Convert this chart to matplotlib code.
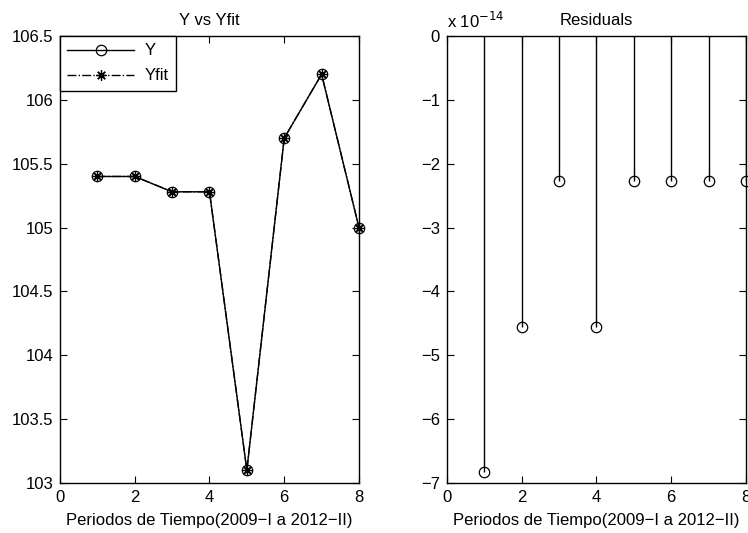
import numpy as np
import matplotlib
matplotlib.use('Agg')
import matplotlib.pyplot as plt

plt.rcParams['font.family'] = ['Liberation Sans', 'DejaVu Sans']
plt.rcParams['font.size'] = 12
plt.rcParams['axes.unicode_minus'] = True

periodos = [1, 2, 3, 4, 5, 6, 7, 8]
y_obs = [105.4, 105.4, 105.28, 105.28, 103.1, 105.7, 106.2, 105.0]
y_fit = [105.4, 105.4, 105.28, 105.28, 103.1, 105.7, 106.2, 105.0]
residuos = [-6.82e-14, -4.55e-14, -2.27e-14, -4.55e-14, -2.27e-14, -2.27e-14, -2.27e-14, -2.27e-14]
escala = 1e-14

xlabel = 'Periodos de Tiempo(2009\u2212I a 2012\u2212II)'

fig = plt.figure(figsize=(7.48, 5.33), dpi=100)
ax1 = fig.add_axes([0.0802, 0.0938, 0.3997, 0.8387])
ax2 = fig.add_axes([0.5976, 0.0938, 0.3997, 0.8387])

# panel izquierdo: Y contra Yfit
l1, = ax1.plot(periodos, y_obs, '-', color='k', lw=1, marker='o', ms=7.5,
               mfc='none', mec='k', mew=0.9, label='Y')
l2, = ax1.plot(periodos, y_fit, '-.', color='k', lw=1, marker=(8, 2, 0), ms=7.5,
               mec='k', mew=0.9, label='Yfit')
for l in (l1, l2):
    l.set_clip_on(False)
ax1.set_xlim(0, 8)
ax1.set_ylim(103, 106.5)
ax1.set_xticks([0, 2, 4, 6, 8])
ax1.set_yticks(np.arange(103, 106.51, 0.5))
ax1.set_yticklabels(['103', '103.5', '104', '104.5', '105', '105.5', '106', '106.5'])
ax1.set_title('Y vs Yfit', fontsize=12, pad=8)
ax1.set_xlabel(xlabel, labelpad=6)
leg = ax1.legend(loc='upper left', borderaxespad=0, fancybox=False,
                 edgecolor='k', framealpha=1, handlelength=4.0,
                 borderpad=0.45, labelspacing=0.6, handletextpad=0.6,
                 fontsize=12)
leg.get_frame().set_linewidth(1)

# panel derecho: residuos
markerline, stemlines, baseline = ax2.stem(periodos, np.array(residuos) / escala)
plt.setp(markerline, marker='o', ms=7.5, mfc='none', mec='k', mew=0.9)
plt.setp(stemlines, color='k', lw=1)
baseline.set_visible(False)
markerline.set_clip_on(False)
ax2.set_xlim(0, 8)
ax2.set_ylim(-7, 0)
ax2.set_xticks([0, 2, 4, 6, 8])
ax2.set_yticks(range(-7, 1))
ax2.set_title('Residuals', fontsize=12, pad=8)
ax2.set_xlabel(xlabel, labelpad=6)
ax2.text(0.0, 1.012, r'x 10$^{-14}$', transform=ax2.transAxes,
         ha='left', va='bottom', fontsize=12)

for ax in (ax1, ax2):
    ax.tick_params(direction='in', length=5, width=0.8, top=True, right=True,
                   labelsize=12, pad=5)
    for s in ax.spines.values():
        s.set_linewidth(1)
        s.set_color('k')

fig.savefig('out.png', dpi=100)
